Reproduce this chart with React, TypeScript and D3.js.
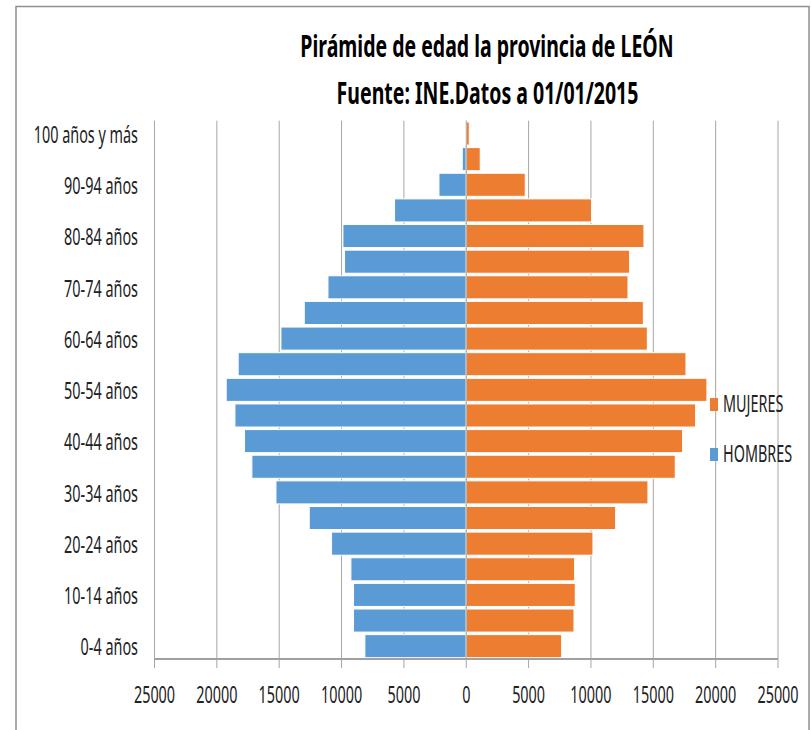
import React from "react";
import * as d3 from "d3";

// grupos de edad, de abajo hacia arriba
const ageGroups = [
  "0-4 años", "5-9 años", "10-14 años", "15-19 años", "20-24 años",
  "25-29 años", "30-34 años", "35-39 años", "40-44 años", "45-49 años",
  "50-54 años", "55-59 años", "60-64 años", "65-69 años", "70-74 años",
  "75-79 años", "80-84 años", "85-89 años", "90-94 años", "95-99 años",
  "100 años y más",
];

const hombres = [
  8130, 9040, 9040, 9250, 10800, 12590, 15260, 17190, 17780, 18550,
  19250, 18290, 14860, 12990, 11090, 9760, 9890, 5750, 2190, 320, 60,
];

const mujeres = [
  7650, 8640, 8740, 8690, 10160, 11980, 14570, 16760, 17350, 18390,
  19300, 17620, 14520, 14200, 12970, 13100, 14250, 10050, 4730, 1120, 240,
];

const xTicks = [-25000, -20000, -15000, -10000, -5000, 0, 5000, 10000, 15000, 20000, 25000];

const titleLines = ["Pirámide de edad la provincia de LEÓN", "Fuente: INE.Datos a 01/01/2015"];

const legendItems = [
  { name: "MUJERES", color: "#ED7D31" },
  { name: "HOMBRES", color: "#5B9BD5" },
];

const W = 811;
const H = 730;
const FONT = "'Noto Sans', sans-serif";
const SX = 0.6; // texto estrecho
const TSX = 0.65; // titulo estrecho

export default function App() {
  const x = d3.scaleLinear().domain([-25000, 25000]).range([154.5, 778]);
  const y = d3
    .scaleBand<string>()
    .domain([...ageGroups].reverse())
    .range([120.7, 659])
    .paddingInner(0.1)
    .paddingOuter(0.05);
  const bandStep = y.step();

  const narrow = (tx: number, ty: number, s = SX) => `translate(${tx},${ty}) scale(${s},1)`;

  return (
    <svg
      width={W}
      height={H}
      style={{ position: "absolute", left: 0, top: 0, background: "#fff" }}
    >
      {/* marco */}
      <rect x={16} y={6.5} width={793} height={760} fill="#fff" stroke="#8f8f8f" strokeWidth={1.5} />

      {/* titulo */}
      <g fontFamily={FONT} fontWeight="bold" fontSize={30} fill="#000" textAnchor="middle">
        <text transform={narrow(487, 57, TSX)}>{titleLines[0]}</text>
        <text transform={narrow(487.5, 104, TSX)}>{titleLines[1]}</text>
      </g>

      {/* rejilla */}
      <g stroke="#a6a6a6" strokeWidth={1}>
        {xTicks.map((t) => (
          <line key={t} x1={x(t)} x2={x(t)} y1={120.7} y2={668} />
        ))}
      </g>

      {/* barras */}
      <g stroke="#fff" strokeWidth={1}>
        {ageGroups.map((g, i) => (
          <rect
            key={"h" + g}
            x={x(-hombres[i])}
            y={y(g)}
            width={x(0) - x(-hombres[i])}
            height={y.bandwidth()}
            fill="#5B9BD5"
          />
        ))}
        {ageGroups.map((g, i) => (
          <rect
            key={"m" + g}
            x={x(0)}
            y={y(g)}
            width={x(mujeres[i]) - x(0)}
            height={y.bandwidth()}
            fill="#ED7D31"
          />
        ))}
      </g>

      {/* eje vertical y eje horizontal */}
      <line x1={x(0)} x2={x(0)} y1={120.7} y2={659} stroke="#a6a6a6" strokeWidth={1} />
      <line x1={x(-25000)} x2={x(25000)} y1={659} y2={659} stroke="#a0a0a0" strokeWidth={2} />

      {/* etiquetas del eje x */}
      <g fontFamily={FONT} fontSize={24} fill="#222" textAnchor="middle">
        {xTicks.map((t) => (
          <text key={t} transform={narrow(x(t), 703)}>
            {Math.abs(t)}
          </text>
        ))}
      </g>

      {/* etiquetas del eje y (una de cada dos) */}
      <g fontFamily={FONT} fontSize={24} fill="#222" textAnchor="end">
        {ageGroups.map((g, i) =>
          i % 2 === 0 ? (
            <text key={g} transform={narrow(138, (y(g) ?? 0) + bandStep / 2 + 8)}>
              {g}
            </text>
          ) : null
        )}
      </g>

      {/* leyenda */}
      <g fontFamily={FONT} fontSize={24} fill="#222">
        {legendItems.map((d, i) => (
          <g key={d.name} transform={`translate(710,${404 + i * 50})`}>
            <rect x={0} y={-6} width={8} height={13} fill={d.color} />
            <text transform={narrow(13, 8)}>{d.name}</text>
          </g>
        ))}
      </g>
    </svg>
  );
}
